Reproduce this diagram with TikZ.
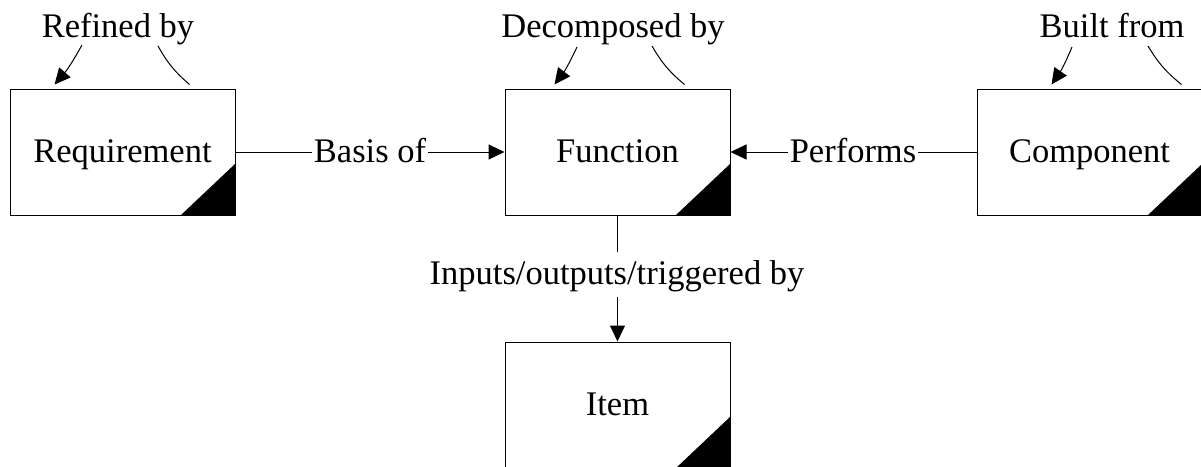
\documentclass[tikz,border=0pt]{standalone}
\usepackage{fontspec}
\setmainfont{Liberation Serif}
\usetikzlibrary{arrows.meta,calc}
\begin{document}
\begin{tikzpicture}[x=1pt,y=-1pt,
  entity/.style={draw,line width=1pt,minimum width=225pt,minimum height=126pt,inner sep=0pt,
    text height=25pt,text depth=5pt,font=\fontsize{34.5}{40}\selectfont},
  lbl/.style={font=\fontsize{34.5}{40}\selectfont,inner ysep=0pt,inner xsep=2pt,text height=25pt,text depth=8pt,anchor=base},
  conn/.style={line width=1pt,-{Triangle[length=16pt,width=15pt]}},
  plain/.style={line width=1pt},
  corner/.style={fill=black}]
\useasboundingbox (0,0) rectangle (1201,466);
\clip (0,0) rectangle (1201,466);
% boxes
\node[entity] (req) at (122.5,152) {Requirement};
\node[entity] (fun) at (617.5,152) {Function};
\node[entity] (comp) at (1089.5,152) {Component};
\node[entity] (item) at (617.5,405) {Item};
% corner triangles
\foreach \n in {req,fun,comp,item}
  \fill[corner] (\n.south east) -- ++(-55,0) -- ++(55,-52) -- cycle;
% connector labels
\node[lbl] (basis) at (370,162) {Basis of};
\node[lbl] (perf) at (853,162) {Performs};
\node[lbl,inner ysep=5pt,text height=27pt] (io) at (617,284) {Inputs/outputs/triggered by};
% horizontal connectors
\draw[plain] (req.east) -- (req.east -| basis.west);
\draw[conn] (fun.west -| basis.east) -- (fun.west);
\draw[plain] (comp.west) -- (comp.west -| perf.east);
\draw[conn] (fun.east -| perf.west) -- (fun.east);
% vertical connector
\draw[plain] (fun.south) -- (fun.south |- io.north);
\draw[conn] (item.north |- io.south) -- (item.north);
% self loops
\node[lbl] (reqlp) at (118,37) {Refined by};
\node[lbl] (funlp) at (613,37) {Decomposed by};
\node[lbl] (complp) at (1112,37) {Built from};
\coordinate (reqA) at ($(reqlp.base)+(-36,8)$);
\coordinate (reqB) at ($(reqlp.base)+(40,9)$);
\coordinate (reqC) at ($(req.north west)+(45,-4)$);
\coordinate (reqD) at ($(req.north west)+(180,-4)$);
\coordinate (funA) at ($(funlp.base)+(-36,10)$);
\coordinate (funB) at ($(funlp.base)+(39,9)$);
\coordinate (funC) at ($(fun.north west)+(50,-4)$);
\coordinate (funD) at ($(fun.north west)+(180,-4)$);
\coordinate (compA) at ($(complp.base)+(-40,10)$);
\coordinate (compB) at ($(complp.base)+(36,9)$);
\coordinate (compC) at ($(comp.north west)+(75,-4)$);
\coordinate (compD) at ($(comp.north west)+(205,-4)$);
\foreach \n in {req,fun,comp}{
  \draw[conn] (\n A) to[bend left=6] (\n C);
  \draw[plain] (\n B) to[bend right=10] (\n D);
}
\end{tikzpicture}
\end{document}
